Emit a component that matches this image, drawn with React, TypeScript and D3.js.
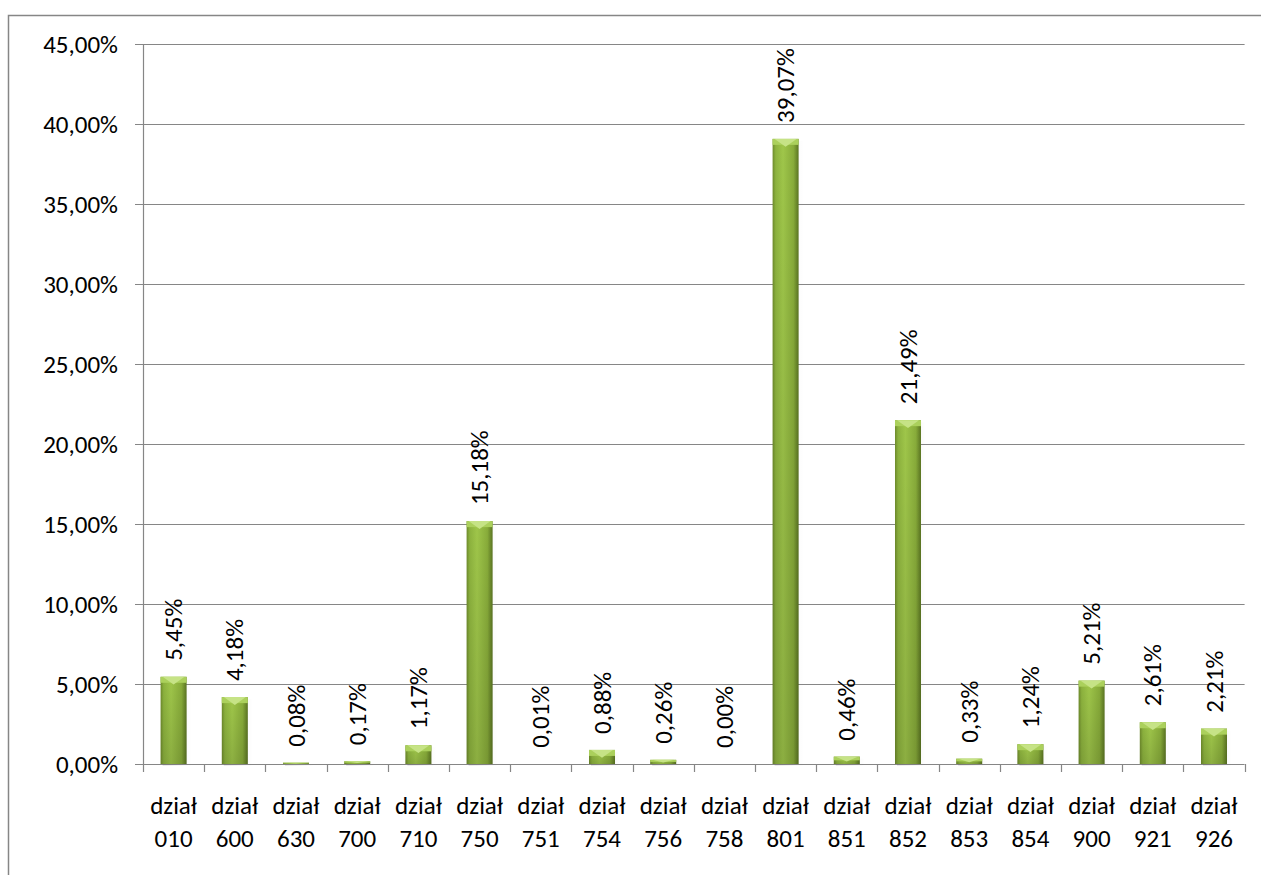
import React from "react";
import * as d3 from "d3";

const categories = ["010", "600", "630", "700", "710", "750", "751", "754", "756", "758", "801", "851", "852", "853", "854", "900", "921", "926"];
const categoryPrefix = "dział";
const values = [5.45, 4.18, 0.08, 0.17, 1.17, 15.18, 0.01, 0.88, 0.26, 0.0, 39.07, 0.46, 21.49, 0.33, 1.24, 5.21, 2.61, 2.21];
const yTicks = [0, 5, 10, 15, 20, 25, 30, 35, 40, 45];

const W = 1261;
const H = 875;
const FONT = "Carlito, Calibri, Lato, sans-serif";
const FS = 25;

const plotLeft = 143;
const plotRight = 1244.6;
const plotTop = 44;
const plotBottom = 764;

const fmt = (v: number) => d3.format(".2f")(v).replace(".", ",") + "%";

export default function App() {
  const x = d3.scaleBand<string>().domain(categories).range([plotLeft, plotRight]).paddingInner(0).paddingOuter(0);
  const y = d3.scaleLinear().domain([0, 45]).range([plotBottom, plotTop]);
  const bw = x.bandwidth() * 0.425;
  const grid = "#868686";

  return (
    <svg width={W} height={H} style={{ position: "absolute", left: 0, top: 0, display: "block" }} fontFamily={FONT}>
      <defs>
        <linearGradient id="barGrad" x1="0" x2="1" y1="0" y2="0">
          <stop offset="0" stopColor="#6e8b2c" />
          <stop offset="0.12" stopColor="#8db33e" />
          <stop offset="0.4" stopColor="#9fc64a" />
          <stop offset="0.8" stopColor="#88ac3a" />
          <stop offset="1" stopColor="#5b7522" />
        </linearGradient>
        <linearGradient id="barBottom" x1="0" x2="0" y1="0" y2="1">
          <stop offset="0" stopColor="#000" stopOpacity="0" />
          <stop offset="1" stopColor="#000" stopOpacity="0.12" />
        </linearGradient>
        <linearGradient id="shadowGrad" x1="0" x2="1" y1="0" y2="0">
          <stop offset="0" stopColor="#000" stopOpacity="0.15" />
          <stop offset="1" stopColor="#000" stopOpacity="0" />
        </linearGradient>
      </defs>
      <rect x={0} y={0} width={W} height={H} fill="#fff" />
      <rect x={8.5} y={15.5} width={1270} height={900} fill="none" stroke={grid} strokeWidth={1.5} />

      {yTicks.map((t) => (
        <g key={t}>
          <line x1={plotLeft - 8} x2={plotRight} y1={Math.round(y(t)) + 0.5} y2={Math.round(y(t)) + 0.5} stroke={grid} strokeWidth={1.2} />
          <text x={118} y={y(t)} dy="0.34em" textAnchor="end" fontSize={FS} fill="#000">
            {fmt(t)}
          </text>
        </g>
      ))}

      <line x1={plotLeft + 0.5} x2={plotLeft + 0.5} y1={plotTop} y2={plotBottom} stroke={grid} strokeWidth={1.2} />

      {[...categories.map((c) => x(c) as number), plotRight].map((px, i) => (
        <line key={i} x1={Math.round(px) + 0.5} x2={Math.round(px) + 0.5} y1={plotBottom} y2={plotBottom + 8} stroke={grid} strokeWidth={1.2} />
      ))}

      {categories.map((c, i) => {
        const v = values[i];
        const cx = (x(c) as number) + x.bandwidth() / 2;
        const x0 = cx - bw / 2;
        const yt = y(v);
        const h = plotBottom - yt;
        const bev = Math.min(6, h / 2);
        return (
          <g key={c}>
            {h > 0.3 && (
              <>
                <rect x={x0 + 2} y={yt + 2} width={bw + 3} height={h} fill="url(#shadowGrad)" opacity={0.6} />
                <rect x={x0} y={yt} width={bw} height={Math.max(h, 0.5)} fill="url(#barGrad)" />
                <rect x={x0} y={yt} width={bw} height={Math.max(h, 0.5)} fill="url(#barBottom)" />
                <rect x={x0} y={yt} width={bw} height={bev} fill="#abd05c" />
                <path d={`M${x0 + 2},${yt} L${x0 + bw - 2},${yt} L${cx},${yt + bev * 1.3} Z`} fill="#c6e386" />
              </>
            )}
            <text transform={`translate(${cx},${yt - 16}) rotate(-90)`} dy="0.34em" textAnchor="start" fontSize={FS} fill="#000">
              {fmt(v)}
            </text>
            <text x={cx} y={814} textAnchor="middle" fontSize={FS} fill="#000">
              {categoryPrefix}
            </text>
            <text x={cx} y={847} textAnchor="middle" fontSize={FS} fill="#000">
              {c}
            </text>
          </g>
        );
      })}
    </svg>
  );
}
